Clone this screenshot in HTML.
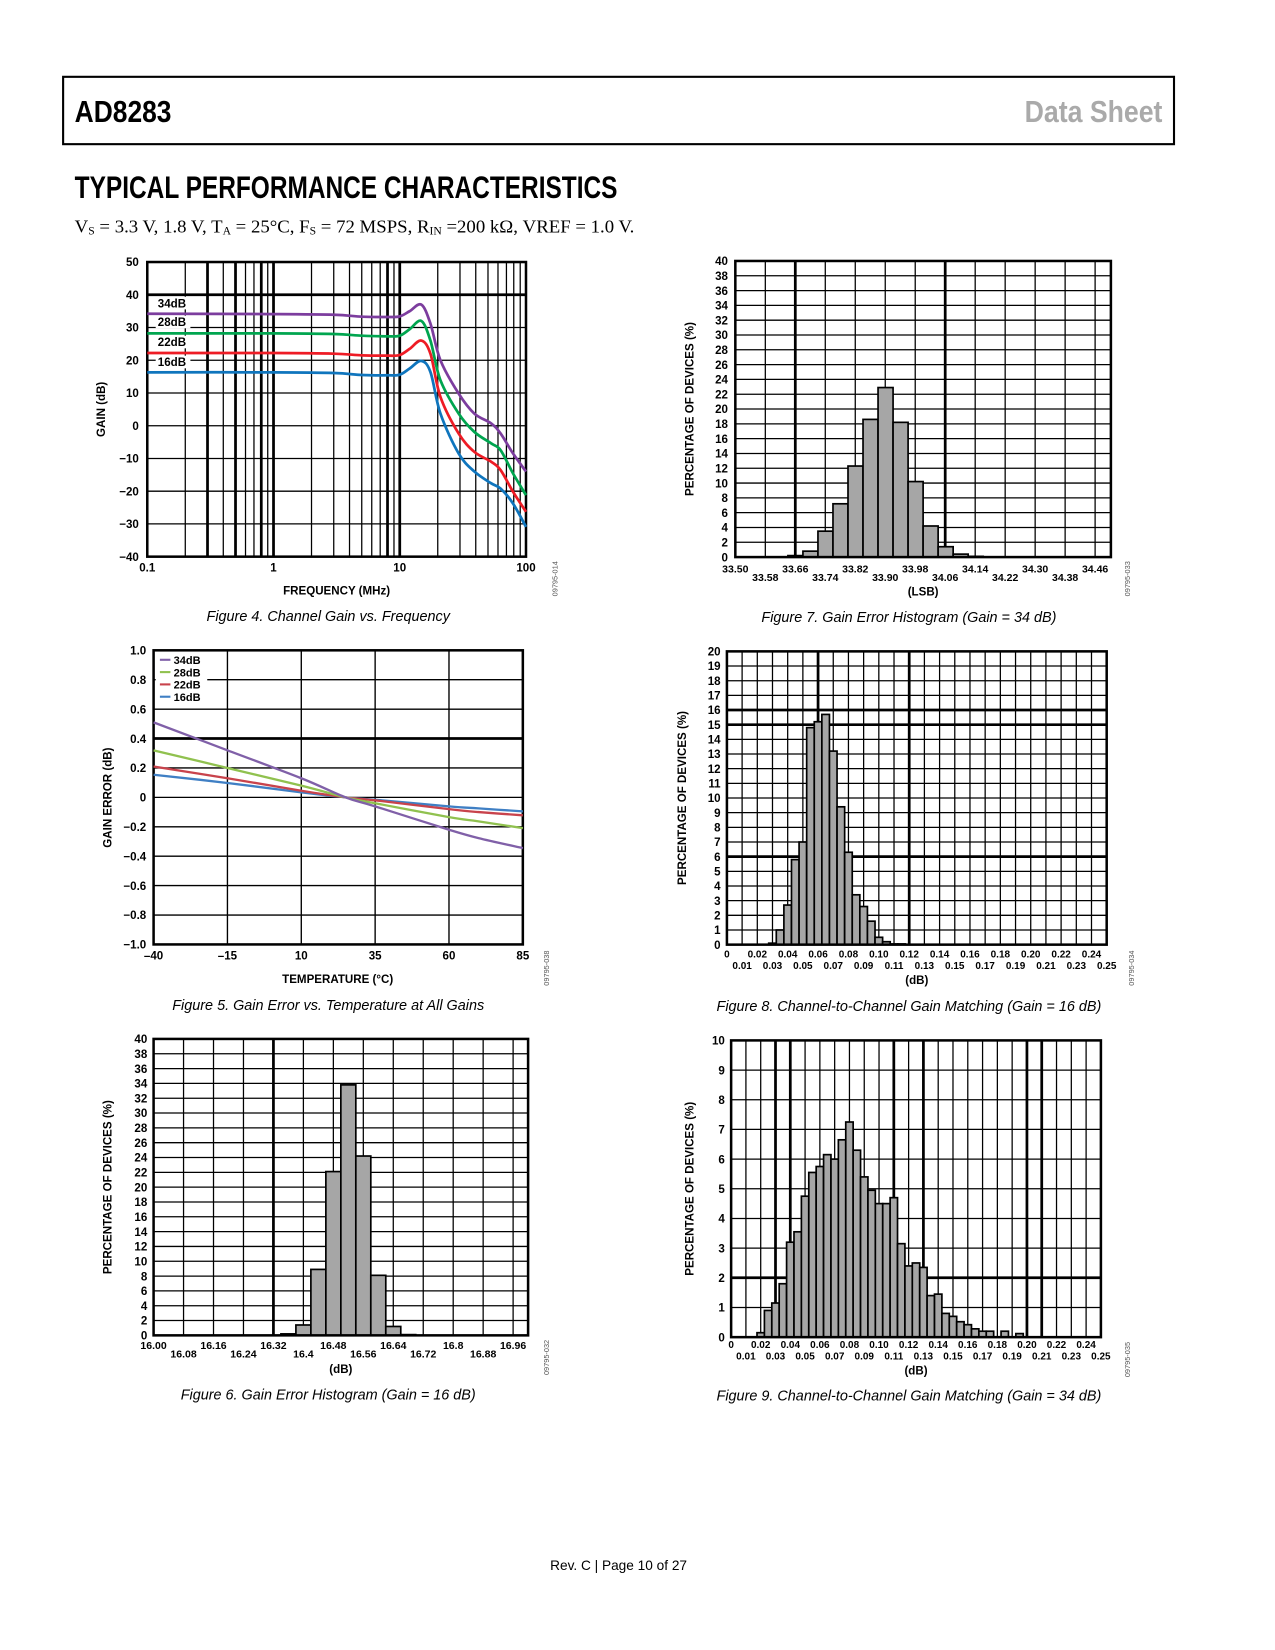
<!DOCTYPE html>
<html><head><meta charset="utf-8"><style>
html,body{margin:0;padding:0;background:#fff;}
svg{display:block;}
text{font-family:"Liberation Sans",Arial,sans-serif;}
</style></head><body>
<svg id="pg" width="1275" height="1650" viewBox="0 0 1212 1568" preserveAspectRatio="none" xmlns="http://www.w3.org/2000/svg">
<rect x="0" y="0" width="1212" height="1568" fill="#fff"/>
<rect x="60" y="73" width="1056" height="64" fill="none" stroke="#000" stroke-width="2"/>
<text x="71" y="116" font-size="29" font-weight="bold" textLength="92" lengthAdjust="spacingAndGlyphs">AD8283</text>
<text x="1105" y="116" font-size="29" font-weight="bold" fill="#aaa" text-anchor="end" textLength="131" lengthAdjust="spacingAndGlyphs">Data Sheet</text>
<text x="71" y="188" font-size="30" font-weight="bold" textLength="516" lengthAdjust="spacingAndGlyphs">TYPICAL PERFORMANCE CHARACTERISTICS</text>
<text x="71" y="221" font-size="17" textLength="532" lengthAdjust="spacingAndGlyphs" style="font-family:'Liberation Serif',serif">V<tspan font-size="10.5" dy="2">S</tspan><tspan dy="-2"> = 3.3 V, 1.8 V, T</tspan><tspan font-size="10.5" dy="2">A</tspan><tspan dy="-2"> = 25°C, F</tspan><tspan font-size="10.5" dy="2">S</tspan><tspan dy="-2"> = 72 MSPS, R</tspan><tspan font-size="10.5" dy="2">IN</tspan><tspan dy="-2"> =200 kΩ, VREF = 1.0 V.</tspan></text>
<text x="588" y="1492" font-size="13" text-anchor="middle">Rev. C | Page 10 of 27</text>
<g id="charts"></g>
</svg>
<script>
// ---- Figure 4 data ----
const f4Freq = [0.1, 1, 3, 5, 8, 10, 12, 14.8, 17.5, 21, 29.3, 39, 53, 63, 79, 100];
const f4G34 = [34.2, 34.1, 33.9, 33.3, 33.2, 33.4, 35, 37, 31.2, 20, 9.8, 3.7, 0.7, -2.4, -8.5, -14];
const f4G28 = [28.2, 28.2, 28, 27.5, 27.3, 27.5, 29.5, 32, 26, 13.9, 3.7, -1.9, -5.4, -7.5, -14.6, -21.2];
const f4G22 = [22.2, 22.2, 22, 21.5, 21.4, 21.6, 23.5, 26, 22, 8.8, -2.4, -8, -11, -13.6, -20.2, -26.3];
const f4G16 = [16.3, 16.3, 16.1, 15.5, 15.4, 15.6, 17.5, 19.8, 16.4, 3.7, -8.5, -14, -17.6, -19.2, -23.8, -30.9];
const f4YTicks = [50, 40, 30, 20, 10, 0, -10, -20, -30, -40];
const f4XTicks = ["0.1", "1", "10", "100"];
// ---- Figure 5 data ----
const f5Temp = [-40, -15, 10, 25, 35, 60, 70, 85];
const f5E34 = [0.51, 0.32, 0.13, 0, -0.061, -0.22, -0.277, -0.345];
const f5E28 = [0.32, 0.2, 0.08, 0, -0.04, -0.134, -0.163, -0.209];
const f5E22 = [0.21, 0.13, 0.045, 0, -0.02, -0.08, -0.1, -0.122];
const f5E16 = [0.154, 0.098, 0.034, 0, -0.016, -0.061, -0.075, -0.095];
const f5XTicks = [-40, -15, 10, 35, 60, 85];
const f5YTicks = [1.0, 0.8, 0.6, 0.4, 0.2, 0, -0.2, -0.4, -0.6, -0.8, -1.0];
// ---- Figure 6 data ----
const f6Bins = [16.34, 16.38, 16.42, 16.46, 16.50, 16.54, 16.58, 16.62, 16.66];
const f6Pct = [0.2, 1.4, 8.9, 22.1, 33.8, 24.2, 8.1, 1.2, 0.1];
const f6XLabels = ["16.00","16.08","16.16","16.24","16.32","16.4","16.48","16.56","16.64","16.72","16.8","16.88","16.96"];
// ---- Figure 7 data ----
const f7Bins = [33.60,33.64,33.68,33.72,33.76,33.80,33.84,33.88,33.92,33.96,34.00,34.04,34.08,34.12,34.16];
const f7Pct = [0, 0.2, 0.8, 3.5, 7.2, 12.3, 18.6, 22.9, 18.2, 10.2, 4.2, 1.4, 0.4, 0.1, 0];
const f7XLabels = ["33.50","33.58","33.66","33.74","33.82","33.90","33.98","34.06","34.14","34.22","34.30","34.38","34.46"];
// ---- Figure 8 data ----
const f8Bins = [0.0275,0.0325,0.0375,0.0425,0.0475,0.0525,0.0575,0.0625,0.0675,0.0725,0.0775,0.0825,0.0875,0.0925,0.0975,0.1025,0.1075,0.1125];
const f8Pct = [0.1, 1.0, 2.7, 5.8, 7.0, 14.8, 15.2, 15.7, 13.2, 9.4, 6.3, 3.4, 2.6, 1.6, 0.5, 0.2, 0.05, 0.05];
// ---- Figure 9 data ----
const f9Bins = [0.0175,0.0225,0.0275,0.0325,0.0375,0.0425,0.0475,0.0525,0.0575,0.0625,0.0675,0.0725,0.0775,0.0825,0.0875,0.0925,0.0975,0.1025,0.1075,0.1125,0.1175,0.1225,0.1275,0.1325,0.1375,0.1425,0.1475,0.1525,0.1575,0.1625,0.1675,0.1725,0.1825,0.1925];
const f9Pct = [0.15,0.9,1.15,1.8,3.2,3.55,4.75,5.55,5.75,6.15,6.0,6.65,7.25,6.3,5.4,4.95,4.5,4.5,4.7,3.15,2.4,2.5,2.35,1.4,1.45,0.8,0.7,0.52,0.42,0.28,0.2,0.2,0.2,0.12];
const dbLabels = ["0","0.01","0.02","0.03","0.04","0.05","0.06","0.07","0.08","0.09","0.10","0.11","0.12","0.13","0.14","0.15","0.16","0.17","0.18","0.19","0.20","0.21","0.22","0.23","0.24","0.25"];

const NS = "http://www.w3.org/2000/svg";
const root = document.getElementById('charts');
function mk(tag, attrs, parent, txt) {
  const e = document.createElementNS(NS, tag);
  for (const k in attrs) e.setAttribute(k, attrs[k]);
  if (txt !== undefined) e.textContent = txt;
  (parent || root).appendChild(e);
  return e;
}
function line(g, x1, y1, x2, y2, w) {
  const l = mk('line', {x1: x1, y1: y1, x2: x2, y2: y2, stroke: '#000', 'stroke-width': w}, g);
  
  
  return l;
}
function label(g, x, y, s, size, anchor, name, extra) {
  const t = mk('text', Object.assign({x: x, y: y, 'font-size': size, 'font-weight': 'bold', 'text-anchor': anchor}, extra || {}), g, s);
  
  
  return t;
}
function vtitle(g, x, y, s, name) {
  const t = mk('text', {x: 0, y: 0, 'font-size': 11, 'font-weight': 'bold', 'text-anchor': 'middle', transform: 'translate(' + x + ',' + y + ') rotate(-90)'}, g, s);
  
  
}
function caption(x, y, s, name) {
  const t = mk('text', {x: x, y: y, 'font-size': 13.7, 'font-style': 'italic', 'text-anchor': 'middle'}, root, s);
  
  
}
function code(x, y, s) {
  const t = mk('text', {x: 0, y: 0, 'font-size': 7, fill: '#555', 'text-anchor': 'middle', transform: 'translate(' + x + ',' + y + ') rotate(-90)'}, root, s);
  
  
}
function smooth(pts) {
  let d = 'M' + pts[0][0] + ',' + pts[0][1];
  for (let i = 0; i < pts.length - 1; i++) {
    const p0 = pts[Math.max(0, i - 1)], p1 = pts[i], p2 = pts[i + 1], p3 = pts[Math.min(pts.length - 1, i + 2)];
    const c1x = p1[0] + (p2[0] - p0[0]) / 6, c1y = p1[1] + (p2[1] - p0[1]) / 6;
    const c2x = p2[0] - (p3[0] - p1[0]) / 6, c2y = p2[1] - (p3[1] - p1[1]) / 6;
    d += ' C' + c1x + ',' + c1y + ' ' + c2x + ',' + c2y + ' ' + p2[0] + ',' + p2[1];
  }
  return d;
}

// ===== Figure 4 =====
(function () {
  const g = mk('g', {});
  
  
  const L = 140, R = 500, T = 249, B = 529;
  const xs = f => L + (Math.log10(f) + 1) / 3 * (R - L);
  const ys = v => T + (50 - v) / 90 * (B - T);
  const thick = [0.3, 0.5, 0.8, 1, 8, 10];
  for (let dec = 0.1; dec < 100; dec *= 10) {
    for (let m = 2; m <= 9; m++) {
      const f = +(dec * m).toPrecision(3);
      line(g, xs(f), T, xs(f), B, thick.indexOf(f) >= 0 ? 2.6 : 1.2);
    }
  }
  line(g, xs(1), T, xs(1), B, 2.6); line(g, xs(10), T, xs(10), B, 2.6);
  f4YTicks.forEach(v => {
    line(g, L, ys(v), R, ys(v), v === 40 ? 2.6 : 1.2);
    label(g, 132, ys(v) + 4, v < 0 ? '\u2212' + (-v) : String(v), 11, 'end', 'y-tick-label');
  });
  const frame = mk('rect', {x: L, y: T, width: R - L, height: B - T, fill: 'none', stroke: '#000', 'stroke-width': 2.4}, g);
  
  
  f4XTicks.forEach(s => label(g, xs(+s), 543, s, 11, 'middle', 'x-tick-label'));
  label(g, 320, 565, 'FREQUENCY (MHz)', 11, 'middle', 'x-axis-title');
  vtitle(g, 100, 389, 'GAIN (dB)', 'y-axis-title');
  const series = [[f4G34, '#7c3d9e', '34dB'], [f4G28, '#00a54f', '28dB'], [f4G22, '#ee1c25', '22dB'], [f4G16, '#0f75bd', '16dB']];
  series.forEach(([vals, col, nm], i) => {
    const pts = f4Freq.map((f, j) => [xs(f), ys(vals[j])]);
    const p = mk('path', {d: smooth(pts), fill: 'none', stroke: col, 'stroke-width': 2.6}, g);
    
    
    const ly = [292, 310, 329, 348][i];
    const bg = mk('rect', {x: 148, y: ly - 10, width: 33, height: 12, fill: '#fff'}, g);
    
    
    label(g, 150, ly, nm, 11, 'start', 'curve-label-' + nm);
  });
})();
caption(312, 590, 'Figure 4. Channel Gain vs. Frequency', 'figure-4-caption');
code(530, 550, '09795-014');

// ===== Figure 5 =====
(function () {
  const g = mk('g', {});
  
  
  const L = 146, R = 497, T = 618, B = 897.5;
  const xs = t => L + (t + 40) / 125 * (R - L);
  const ys = v => T + (1 - v) / 2 * (B - T);
  f5XTicks.forEach(t => {
    line(g, xs(t), T, xs(t), B, 1.3);
    label(g, xs(t), 912, t < 0 ? '\u2013' + (-t) : String(t), 11, 'middle', 'x-tick-label');
  });
  f5YTicks.forEach(v => {
    line(g, L, ys(v), R, ys(v), Math.abs(v - 0.4) < 1e-9 ? 2.6 : 1.3);
    const s = v === 0 ? '0' : (v < 0 ? '\u2212' + (-v).toFixed(1) : v.toFixed(1));
    label(g, 139, ys(v) + 4, s, 11, 'end', 'y-tick-label');
  });
  const frame = mk('rect', {x: L, y: T, width: R - L, height: B - T, fill: 'none', stroke: '#000', 'stroke-width': 2.4}, g);
  
  
  label(g, 321, 934, 'TEMPERATURE (°C)', 11, 'middle', 'x-axis-title');
  vtitle(g, 106, 758, 'GAIN ERROR (dB)', 'y-axis-title');
  const series = [[f5E16, '#3f7fc4', '16dB'], [f5E22, '#c8434c', '22dB'], [f5E28, '#90c14f', '28dB'], [f5E34, '#8060a8', '34dB']];
  series.forEach(([vals, col, nm]) => {
    const pts = f5Temp.map((t, j) => [xs(t), ys(vals[j])]);
    const p = mk('path', {d: smooth(pts), fill: 'none', stroke: col, 'stroke-width': 2.2}, g);
    
    
  });
  const lb = mk('rect', {x: 148, y: 620, width: 49, height: 47, fill: '#fff'}, g);
  
  
  const leg = [['34dB', '#8060a8'], ['28dB', '#90c14f'], ['22dB', '#c8434c'], ['16dB', '#3f7fc4']];
  leg.forEach(([nm, col], i) => {
    const y = 627 + i * 11.7;
    const sw = mk('line', {x1: 152, y1: y, x2: 162, y2: y, stroke: col, 'stroke-width': 2}, g);
    
    
    label(g, 165, y + 4, nm, 10.5, 'start', 'legend-entry');
  });
})();
caption(312, 960, 'Figure 5. Gain Error vs. Temperature at All Gains', 'figure-5-caption');
code(522, 920, '09795-038');

// ===== Generic histogram =====
function hist(o) {
  const g = mk('g', {});
  
  
  const xs = v => o.L + (v - o.x0) / (o.x1 - o.x0) * (o.R - o.L);
  const ys = v => o.B - v / o.ymax * (o.B - o.T);
  for (let i = 0; i <= o.ncols; i++) {
    const x = o.L + i * o.colW;
    if (x > o.R + 0.5) break;
    line(g, x, o.T, x, o.B, o.thickX.indexOf(i) >= 0 ? 2.6 : 1.2);
  }
  for (let v = 0; v <= o.ymax; v += o.ystep) {
    line(g, o.L, ys(v), o.R, ys(v), o.thickY.indexOf(v) >= 0 ? 2.6 : 1.2);
    label(g, o.ylx, ys(v) + 4, String(v), 11, 'end', 'y-tick-label');
  }
  o.bins.forEach((b, i) => {
    const v = o.vals[i];
    if (v <= 0) return;
    const r = mk('rect', {x: xs(b), y: ys(v), width: xs(b + o.bw) - xs(b), height: o.B - ys(v), fill: '#a6a6a6', stroke: '#000', 'stroke-width': 1.6}, g);
    
    
  });
  const frame = mk('rect', {x: o.L, y: o.T, width: o.R - o.L, height: o.B - o.T, fill: 'none', stroke: '#000', 'stroke-width': 2.4}, g);
  
  
  o.xl.forEach((s, i) => {
    label(g, o.L + i * o.colW, i % 2 === 0 ? o.row1 : o.row2, s, o.xfs, 'middle', 'x-tick-label');
  });
  label(g, (o.L + o.R) / 2, o.xtY, o.xt, 11, 'middle', 'x-axis-title');
  vtitle(g, o.ytX, (o.T + o.B) / 2, 'PERCENTAGE OF DEVICES (%)', 'y-axis-title');
}

hist({name: 'gain-error-histogram-16db', L: 146, R: 502, T: 987.3, B: 1269, x0: 16.0, x1: 17.0, colW: 28.48, ncols: 13,
  ymax: 40, ystep: 2, thickX: [4], thickY: [], bins: f6Bins, vals: f6Pct, bw: 0.04, xl: f6XLabels,
  row1: 1282, row2: 1290, xfs: 10, ylx: 140, xt: '(dB)', xtY: 1305, ytX: 106});
caption(312, 1330, 'Figure 6. Gain Error Histogram (Gain = 16 dB)', 'figure-6-caption');
code(522, 1290, '09795-032');

hist({name: 'gain-error-histogram-34db', L: 699, R: 1056, T: 248, B: 529.4, x0: 33.50, x1: 34.50, colW: 28.5, ncols: 13,
  ymax: 40, ystep: 2, thickX: [2, 7], thickY: [], bins: f7Bins, vals: f7Pct, bw: 0.04, xl: f7XLabels,
  row1: 544, row2: 552, xfs: 10, ylx: 692, xt: '(LSB)', xtY: 566, ytX: 659});
caption(864, 591, 'Figure 7. Gain Error Histogram (Gain = 34 dB)', 'figure-7-caption');
code(1074, 550, '09795-033');

hist({name: 'gain-matching-histogram-16db', L: 691, R: 1052, T: 619, B: 897.7, x0: 0, x1: 0.25, colW: 14.44, ncols: 25,
  ymax: 20, ystep: 1, thickX: [6, 12], thickY: [6, 15, 16], bins: f8Bins, vals: f8Pct, bw: 0.005, xl: dbLabels,
  row1: 910, row2: 921, xfs: 9.5, ylx: 685, xt: '(dB)', xtY: 935, ytX: 652});
caption(864, 961, 'Figure 8. Channel-to-Channel Gain Matching (Gain = 16 dB)', 'figure-8-caption');
code(1078, 920, '09795-034');

hist({name: 'gain-matching-histogram-34db', L: 695, R: 1046.5, T: 988.7, B: 1270.7, x0: 0, x1: 0.25, colW: 14.06, ncols: 25,
  ymax: 10, ystep: 1, thickX: [3, 4, 11, 13, 20, 21], thickY: [2], bins: f9Bins, vals: f9Pct, bw: 0.005, xl: dbLabels,
  row1: 1281, row2: 1292, xfs: 9.5, ylx: 689, xt: '(dB)', xtY: 1306, ytX: 659});
caption(864, 1331, 'Figure 9. Channel-to-Channel Gain Matching (Gain = 34 dB)', 'figure-9-caption');
code(1074, 1292, '09795-035');
</script>
</body></html>
